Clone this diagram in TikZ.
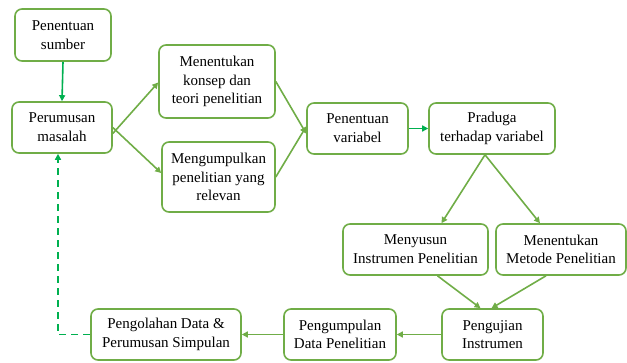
\documentclass[tikz,border=0pt]{standalone}
\usepackage{fontspec}
\setmainfont{Liberation Serif}
\usetikzlibrary{arrows.meta,positioning}
\definecolor{boxgreen}{HTML}{70AD47}
\definecolor{brightgreen}{HTML}{00B050}
\definecolor{txt}{HTML}{000000}
\begin{document}
\begin{tikzpicture}[x=1pt,y=-1pt,
  box/.style={draw=boxgreen,line width=1.6pt,rounded corners=7pt,align=center,
    inner sep=0pt,text=txt,font=\rmfamily\fontsize{15}{18.7}\selectfont},
  conn/.style={draw=boxgreen,line width=1.6pt,-{Triangle[length=6pt,width=6pt]}},
  bconn/.style={draw=brightgreen,line width=1.6pt,-{Triangle[length=6pt,width=6pt]}}]
\useasboundingbox (0,0) rectangle (627,363);
\node[box,minimum width=96pt,minimum height=52pt] (sumber) at (63,35) {Penentuan\\sumber};
\node[box,minimum width=100pt,minimum height=51pt] (masalah) at (62,127.5) {Perumusan\\masalah};
\node[box,minimum width=116pt,minimum height=73pt] (konsep) at (217,81.5) {Menentukan\\konsep dan\\teori penelitian};
\node[box,minimum width=113pt,minimum height=70pt] (kumpul) at (218.5,177) {Mengumpulkan\\penelitian yang\\relevan};
\node[box,minimum width=101pt,minimum height=51pt] (var) at (357.5,128.5) {Penentuan\\variabel};
\node[box,minimum width=126pt,minimum height=51pt] (praduga) at (492,128.5) {Praduga\\terhadap variabel};
\node[box,minimum width=145pt,minimum height=51pt] (susun) at (415.5,249.5) {Menyusun\\Instrumen Penelitian};
\node[box,minimum width=130pt,minimum height=51pt] (metode) at (561,249.5) {Menentukan\\Metode Penelitian};
\node[box,minimum width=101pt,minimum height=51pt] (uji) at (492.5,334.5) {Pengujian\\Instrumen};
\node[box,minimum width=112pt,minimum height=51pt] (data) at (340,334.5) {Pengumpulan\\Data Penelitian};
\node[box,minimum width=150pt,minimum height=51pt] (olah) at (166,334.5) {Pengolahan Data \&\\Perumusan Simpulan};

\draw[bconn] (sumber.south) -- (masalah.north);
\draw[conn] ([yshift=-6pt]masalah.east) -- ([yshift=-1pt]konsep.west);
\draw[conn] ([yshift=0pt]masalah.east) -- ([yshift=4pt]kumpul.west);
\draw[conn] (konsep.east) -- ([yshift=-5pt]var.west);
\draw[conn] (kumpul.east) -- ([yshift=2pt]var.west);
\draw[bconn] (var.east) -- (praduga.west);
\draw[conn] ([xshift=-7pt]praduga.south) -- ([xshift=26pt]susun.north);
\draw[conn] ([xshift=-7pt]praduga.south) -- ([xshift=-21pt]metode.north);
\draw[conn] ([xshift=22pt]susun.south) -- ([xshift=-12pt]uji.north);
\draw[conn] ([xshift=-15pt]metode.south) -- ([xshift=-1pt]uji.north);
\draw[conn] (uji.west) -- (data.east);
\draw[conn] (data.west) -- (olah.east);
\draw[bconn,dashed,dash pattern=on 7pt off 5pt] (olah.west) -| ([xshift=-4pt]masalah.south);
\end{tikzpicture}
\end{document}
